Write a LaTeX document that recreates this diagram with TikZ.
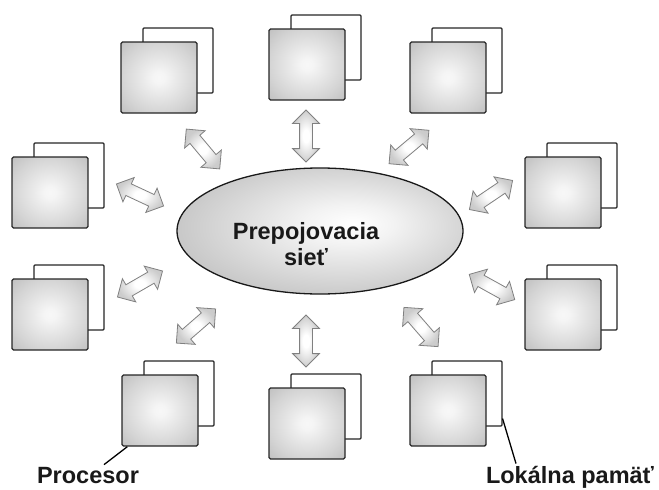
\documentclass[tikz,border=0pt]{standalone}
\usepackage{fontspec}
\setmainfont{Liberation Sans}
\usetikzlibrary{shapes.geometric,shapes.arrows,positioning,calc}

\pgfdeclareradialshading{unitshade}{\pgfpoint{0bp}{0bp}}{color(0bp)=(white!97!black); color(4bp)=(white!96!black); color(25bp)=(black!17); color(36bp)=(black!25); color(50bp)=(black!25)}
\pgfdeclareradialshading{netshade}{\pgfpoint{6bp}{3bp}}{color(0bp)=(white); color(8bp)=(white!95!black); color(27bp)=(black!21); color(50bp)=(black!25)}
\pgfdeclareradialshading{linkshade}{\pgfpoint{0bp}{0bp}}{color(0bp)=(white); color(6bp)=(white); color(25bp)=(black!20); color(50bp)=(black!22)}

\begin{document}
\begin{tikzpicture}[x=1pt, y=-1pt,
  cpu/.style={draw=black!85, line width=1.4pt, rounded corners=1.5pt, shading=unitshade,
    minimum width=76pt, minimum height=71pt, inner sep=0pt},
  mem/.style={draw=black!85, line width=1.1pt, rounded corners=1pt, fill=white,
    minimum width=70pt, minimum height=65pt, inner sep=0pt},
  link/.style={double arrow, draw=black!50, line width=0.8pt, shading=linkshade,
    minimum height=52pt, inner sep=6pt, double arrow head extend=7pt},
  lbl/.style={font=\fontsize{23.5}{26}\selectfont\bfseries, text=black!90, inner sep=2pt}]

\useasboundingbox (0,0) rectangle (659,490);

% processors, each with its local memory behind it
\foreach \n/\x/\y in {1/159/77.5, 2/307/64.5, 3/448/77.5, 4/563/192.5, 5/563/314.5,
                      6/448/410.5, 7/307/423.5, 8/160/410.5, 9/50/314.5, 10/50/192.5} {
  \node[mem] (m\n) at (\x+19,\y-17) {};
  \node[cpu] (p\n) at (\x,\y) {};
}

% interconnection network
\node[ellipse, draw=black!90, line width=1.3pt, shading=netshade,
  minimum width=286pt, minimum height=126pt, inner sep=0pt] (net) at (320,231) {};
\node[lbl, align=center] (nettxt) at (306,244) {Prepojovacia\\sieť};

% links between the network and the processors
\node[link, rotate=-50] (l1) at (203,149) {};
\node[link, rotate=90]  (l2) at (306,136) {};
\node[link, rotate=40]  (l3) at (409,147) {};
\node[link, rotate=34]  (l4) at (491,195) {};
\node[link, rotate=-29] (l5) at (492,287) {};
\node[link, rotate=-49] (l6) at (421,327) {};
\node[link, rotate=90]  (l7) at (306,341) {};
\node[link, rotate=41]  (l8) at (196,326) {};
\node[link, rotate=30]  (l9) at (140,284) {};
\node[link, rotate=-25] (l10) at (140,195) {};

% labels
\node[lbl, anchor=base] (lproc) at (88,483) {Procesor};
\node[lbl, anchor=base] (lmem) at (570,483) {Lokálna pamäť};
\draw[line width=1.3pt] ([xshift=6pt]p8.south west) -- ([xshift=16pt]lproc.north);
\draw[line width=1.3pt] ([yshift=8pt]m6.south east) -- ([xshift=-54pt]lmem.north);
\end{tikzpicture}
\end{document}
